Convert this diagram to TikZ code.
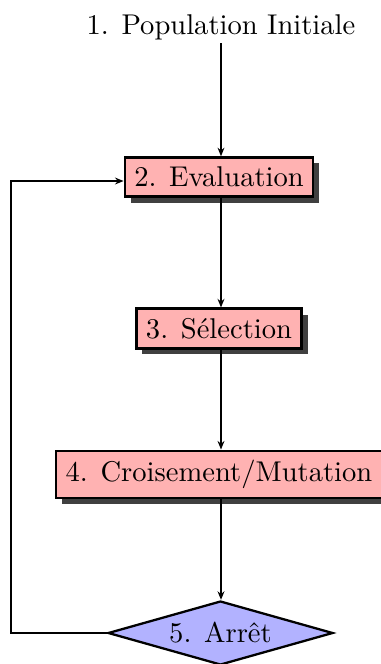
\documentclass[tikz,border=0pt]{standalone}
\usetikzlibrary{arrows.meta,shapes.geometric,shadows}
\begin{document}
\begin{tikzpicture}[x=0.35pt,y=-0.35pt,
  stepbox/.style={draw=black,line width=0.8pt,fill=red!30,inner sep=0.3333em,minimum height=13.65pt,
    drop shadow={shadow xshift=2.1pt,shadow yshift=-2.1pt,fill=black!75,opacity=1}},
  stopbox/.style={diamond,draw=black,line width=0.8pt,fill=blue!30,inner sep=0pt,aspect=3.5,
    minimum width=78.75pt,minimum height=22.4pt},
  plain/.style={inner sep=1pt},
  arr/.style={line width=0.6pt,-{Stealth[length=3pt,width=2.4pt]}}]
\useasboundingbox (0,0) rectangle (380,664);
\node[plain] (n1) at (221,27) {1. Population Initiale};
\node[stepbox] (b2) at (219,177) {2. Evaluation};
\node[stepbox] (b3) at (219,328.5) {3. Sélection};
\node[stepbox] (b4) at (219,474.5) {4. Croisement/Mutation};
\node[stopbox] (d5) at (220.5,633) {5. Arrêt};
\coordinate (lp) at (11,181);
\draw[arr] (n1.south) -- (n1.south |- b2.north);
\draw[arr] (b2.south -| n1) -- (b3.north -| n1);
\draw[arr] (b3.south -| n1) -- (b4.north -| n1);
\draw[arr] (b4.south -| n1) -- (d5.north -| n1);
\draw[arr] (d5.west) -| (lp) -- (lp -| b2.west);
\end{tikzpicture}
\end{document}
